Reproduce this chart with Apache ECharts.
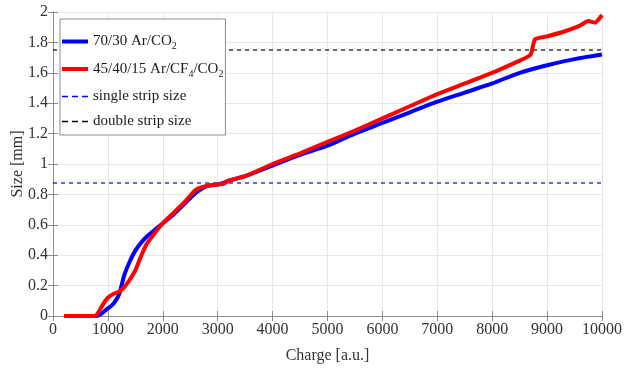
<!DOCTYPE html>
<html>
<head>
<meta charset="utf-8">
<script src="https://cdn.jsdelivr.net/npm/echarts@6/dist/echarts.min.js"></script>
<style>
  html, body { margin: 0; padding: 0; background: #fff; }
  #chart { width: 635px; height: 369px; }
</style>
</head>
<body>
<div id="chart"></div>
<script>
// values
const blueCharge = [200, 800, 900, 1000, 1100, 1200, 1300, 1400, 1500, 1600, 1700, 1800, 2000, 2200, 2400, 2600, 2800, 3000, 3100, 3200, 3500, 4000, 4500, 5000, 5500, 6000, 6500, 7000, 7500, 8000, 8500, 9000, 9500, 10000];
const blueSize = [0, 0, 0.02, 0.05, 0.08, 0.14, 0.27, 0.36, 0.43, 0.48, 0.52, 0.55, 0.61, 0.67, 0.74, 0.81, 0.855, 0.865, 0.875, 0.89, 0.92, 0.99, 1.06, 1.12, 1.20, 1.27, 1.34, 1.41, 1.47, 1.53, 1.60, 1.65, 1.69, 1.72];

const redCharge = [200, 750, 800, 900, 1000, 1100, 1200, 1300, 1400, 1500, 1600, 1700, 1800, 2000, 2200, 2400, 2600, 2800, 3000, 3100, 3200, 3500, 4000, 4500, 5000, 5500, 6000, 6500, 7000, 7500, 8000, 8500, 8700, 8780, 9000, 9300, 9600, 9750, 9870, 10000];
const redSize = [0, 0, 0.01, 0.07, 0.12, 0.145, 0.16, 0.19, 0.24, 0.30, 0.39, 0.47, 0.52, 0.61, 0.68, 0.75, 0.83, 0.855, 0.865, 0.87, 0.89, 0.92, 1.0, 1.07, 1.145, 1.22, 1.30, 1.38, 1.46, 1.53, 1.60, 1.68, 1.72, 1.82, 1.84, 1.87, 1.91, 1.94, 1.93, 1.98];

const singleStrip = 0.875;
const doubleStrip = 1.75;
const xRange = [0, 10000];

const seriesNames = ['70/30 Ar/CO2', '45/40/15 Ar/CF4/CO2', 'single strip size', 'double strip size'];
const legendLabels = {
  '70/30 Ar/CO2': '70/30 Ar/CO{sub|2}',
  '45/40/15 Ar/CF4/CO2': '45/40/15 Ar/CF{sub|4}/CO{sub|2}',
  'single strip size': 'single strip size',
  'double strip size': 'double strip size',
};

const font = 'Liberation Serif';
const zip = (xs, ys) => xs.map((x, i) => [x, ys[i]]);

// legend icons: thick solid bar or thin dashed bar
const solidIcon = 'path://M0,0H26V4H0Z';
const dashedIcon = 'path://M0,0H6V1.4H0Z M10,0H16V1.4H10Z M20,0H26V1.4H20Z';

const chart = echarts.init(document.getElementById('chart'));

const gridLine = { show: true, lineStyle: { color: '#e8e8e8', width: 1 } };
const frameLine = { show: true, lineStyle: { color: '#8c8c8c', width: 1 } };
const tickIn = { show: true, inside: true, length: 5, lineStyle: { color: '#8c8c8c' } };

chart.setOption({
  animation: false,
  textStyle: { fontFamily: font },
  grid: { left: 53, right: 33, top: 12, bottom: 53, containLabel: false, outerBoundsMode: 'none' },
  legend: {
    orient: 'vertical',
    left: 60,
    top: 19,
    data: [
      { name: seriesNames[0], icon: solidIcon },
      { name: seriesNames[1], icon: solidIcon },
      { name: seriesNames[2], icon: dashedIcon },
      { name: seriesNames[3], icon: dashedIcon },
    ],
    backgroundColor: '#fff',
    borderColor: '#8c8c8c',
    borderWidth: 1,
    padding: [15, 2, 6, 2],
    itemGap: 10,
    itemWidth: 26,
    itemHeight: 14,
    formatter: (name) => legendLabels[name],
    textStyle: {
      fontFamily: font,
      fontSize: 15,
      color: '#1a1a1a',
      rich: {
        sub: { fontSize: 10, padding: [10, 0, 0, 0], fontFamily: font, color: '#1a1a1a' },
      },
    },
  },
  xAxis: [
    {
      type: 'value',
      min: 0,
      max: 10000,
      interval: 1000,
      name: 'Charge [a.u.]',
      nameLocation: 'middle',
      nameGap: 32,
      nameMoveOverlap: false,
      nameTextStyle: { fontFamily: font, fontSize: 16, color: '#333' },
      axisLine: frameLine,
      axisTick: tickIn,
      axisLabel: { fontFamily: font, fontSize: 16, color: '#333', margin: 6, formatter: (v) => String(v) },
      splitLine: gridLine,
    },
    {
      type: 'value',
      position: 'top',
      min: 0,
      max: 10000,
      interval: 1000,
      axisLine: frameLine,
      axisTick: tickIn,
      axisLabel: { show: false },
      splitLine: { show: false },
    },
  ],
  yAxis: [
    {
      type: 'value',
      min: 0,
      max: 2,
      interval: 0.2,
      name: 'Size [mm]',
      nameLocation: 'middle',
      nameGap: 27,
      nameMoveOverlap: false,
      nameTextStyle: { fontFamily: font, fontSize: 16, color: '#333' },
      axisLine: frameLine,
      axisTick: tickIn,
      axisLabel: {
        fontFamily: font,
        fontSize: 16,
        color: '#333',
        margin: 5,
        formatter: (v) => String(Math.round(v * 10) / 10),
      },
      splitLine: gridLine,
    },
    {
      type: 'value',
      position: 'right',
      min: 0,
      max: 2,
      interval: 0.2,
      axisLine: frameLine,
      axisTick: tickIn,
      axisLabel: { show: false },
      splitLine: { show: false },
    },
  ],
  series: [
    {
      name: seriesNames[0],
      type: 'line',
      data: zip(blueCharge, blueSize),
      smooth: 0.3,
      symbol: 'none',
      lineStyle: { color: '#0000ff', width: 4 },
      itemStyle: { color: '#0000ff' },
      z: 3,
    },
    {
      name: seriesNames[1],
      type: 'line',
      data: zip(redCharge, redSize),
      smooth: 0.2,
      symbol: 'none',
      lineStyle: { color: '#ff0000', width: 4 },
      itemStyle: { color: '#ff0000' },
      z: 4,
    },
    {
      name: seriesNames[2],
      type: 'line',
      data: xRange.map((x) => [x, singleStrip]),
      symbol: 'none',
      lineStyle: { color: '#0000ff', width: 1.2, type: [4, 4] },
      itemStyle: { color: '#0000ff' },
      z: 2,
    },
    {
      name: seriesNames[3],
      type: 'line',
      data: xRange.map((x) => [x, doubleStrip]),
      symbol: 'none',
      lineStyle: { color: '#000', width: 1.2, type: [4, 4] },
      itemStyle: { color: '#000' },
      z: 2,
    },
  ],
});
</script>
</body>
</html>
